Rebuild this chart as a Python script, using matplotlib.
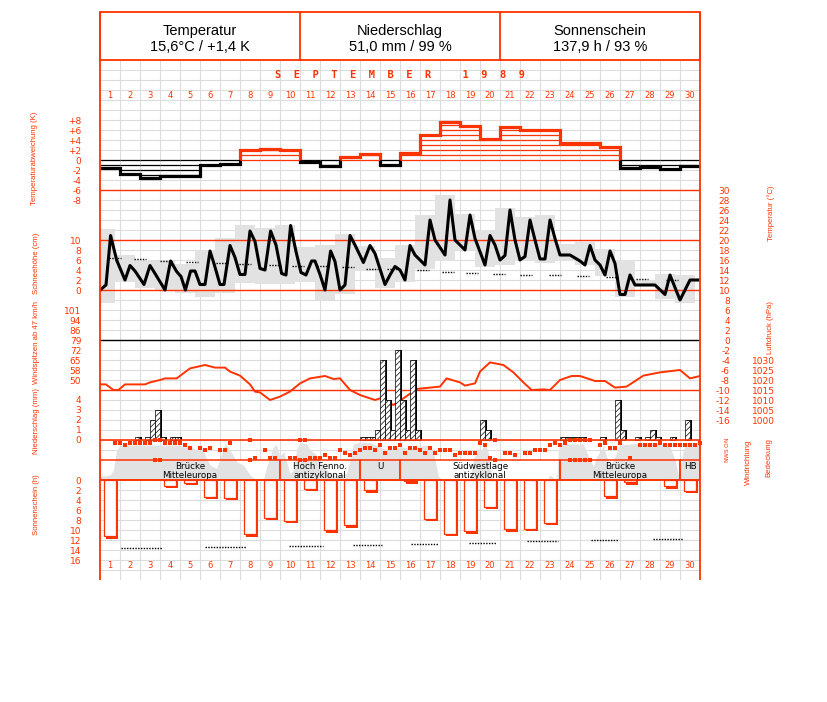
import matplotlib.pyplot as plt
import numpy as np
from matplotlib.patches import Rectangle

plt.rcParams['hatch.linewidth'] = 0.5

RED = '#ff3300'
GRID = '#dcdcdc'
GREY = '#e2e2e2'

# ---------------- Daten September 1989 ----------------
days = np.arange(1, 31)

# Abweichung des Tagesmittels vom langjaehrigen Mittel (K)
temp_dev = [-1.6, -2.7, -3.5, -3.1, -3.1, -1.0, -0.7, 2.0, 2.2, 2.0,
            -0.4, -1.1, 0.7, 1.3, -0.9, 1.5, 5.0, 7.7, 6.9, 4.3,
            6.6, 6.1, 6.1, 3.5, 3.5, 2.6, -1.6, -1.3, -1.8, -1.2]

# Tagesextreme (degC)
temp_max = [22.3, 17.1, 16.0, 15.8, 15.3, 18.0, 20.5, 23.1, 22.5, 23.1,
            18.7, 19.1, 21.3, 18.8, 16.5, 19.1, 25.0, 29.0, 25.3, 22.0,
            26.5, 24.7, 25.0, 19.3, 19.7, 18.2, 16.0, 12.0, 13.3, 13.0]
temp_min = [7.5, 11.7, 10.5, 9.8, 9.5, 8.7, 9.5, 11.5, 11.3, 11.3,
            11.7, 8.0, 9.3, 13.8, 10.5, 11.7, 14.3, 15.8, 18.0, 14.7,
            15.0, 15.8, 15.5, 15.8, 15.0, 12.9, 8.7, 10.8, 8.3, 7.5]

# Temperaturverlauf (Zeit in Tagen ab 1.9. 0 Uhr)
temp_t = [0, 0.3, 0.53, 0.83, 1.25, 1.5, 1.75, 2.2, 2.5, 2.75, 3.25, 3.53, 3.83, 4.05,
          4.27, 4.53, 4.75, 5.0, 5.25, 5.5, 5.72, 6.0, 6.2, 6.5, 6.75, 7.0, 7.25, 7.5,
          7.75, 8.0, 8.25, 8.53, 8.8, 9.08, 9.3, 9.53, 9.8, 10.05, 10.3, 10.58, 10.75,
          11.0, 11.25, 11.53, 11.75, 12.0, 12.25, 12.5, 12.75, 13.17, 13.5, 13.75,
          14.25, 14.5, 14.75, 15.0, 15.25, 15.5, 15.75, 16.25, 16.5, 16.75, 17.25,
          17.5, 17.75, 18.25, 18.5, 18.75, 19.25, 19.5, 19.75, 20.0, 20.25, 20.5,
          20.75, 21.0, 21.25, 21.5, 21.75, 22.0, 22.25, 22.5, 22.75, 23.0, 23.5, 24.0,
          24.25, 24.5, 24.75, 25.0, 25.25, 25.5, 25.75, 26.0, 26.25, 26.5, 26.75,
          27.75, 28.25, 28.5, 29.0, 29.5, 30.0]
temp_v = [10.0, 11.0, 20.9, 16.0, 12.0, 14.9, 13.8, 11.1, 14.9, 13.3, 10.0, 15.8, 13.7, 12.7,
          10.0, 13.8, 13.8, 11.1, 11.1, 17.8, 15.0, 11.1, 11.1, 18.9, 16.5, 13.1, 13.1, 21.8,
          19.7, 14.3, 14.0, 21.8, 19.0, 13.3, 13.0, 22.9, 17.7, 13.5, 13.0, 15.8, 15.8,
          13.1, 10.0, 17.8, 15.7, 10.0, 11.0, 20.9, 19.0, 15.5, 18.9, 17.3,
          11.1, 13.0, 14.7, 14.0, 12.0, 18.9, 17.0, 15.0, 24.0, 20.0, 17.0,
          28.0, 20.0, 18.0, 25.0, 20.3, 15.0, 20.9, 19.0, 16.0, 16.9, 26.0,
          20.0, 16.0, 16.7, 24.0, 20.0, 16.2, 16.2, 24.0, 20.3, 17.0, 17.0, 15.8,
          15.0, 18.9, 16.0, 15.0, 13.0, 17.8, 15.3, 9.1, 9.1, 13.0, 11.0,
          11.0, 9.1, 13.0, 8.0, 12.0, 12.0]

# langjaehriges Tagesmittel der Temperatur
clim_t = [0.75, 2.0, 3.3, 4.6, 6.1, 7.25, 8.75, 9.9, 11.15, 12.4, 13.6, 14.65,
          16.15, 17.4, 18.6, 19.95, 21.3, 22.75, 24.15, 25.6, 27.1, 28.6]
clim_v = [16.5, 16.2, 15.9, 15.7, 15.5, 15.3, 15.1, 14.9, 14.8, 14.6, 14.3, 14.2,
          14.0, 13.7, 13.5, 13.3, 13.1, 13.0, 12.8, 12.6, 12.3, 12.1]

# Luftdruck (hPa)
pres_t = [0, 0.3, 0.67, 0.92, 1.25, 2.25, 2.5, 3.0, 3.25, 3.83, 4.5, 5.25, 5.75, 6.25,
          6.5, 7.0, 7.5, 7.75, 8.0, 8.5, 9.0, 9.5, 10.0, 10.5, 11.25, 11.67, 12.0, 12.5,
          13.0, 13.75, 14.0, 14.67, 15.17, 15.83, 16.5, 17.0, 17.33, 18.0, 18.25, 18.75,
          19.0, 19.5, 20.17, 20.67, 21.17, 21.58, 22.17, 22.5, 23.0, 23.58, 24.0, 24.75,
          25.25, 25.75, 26.33, 27.17, 28.0, 29.0, 29.5, 30.0]
pres_v = [1017.8, 1017.8, 1015.0, 1015.0, 1017.8, 1017.8, 1018.8, 1020.0, 1020.8, 1020.8,
          1025.8, 1027.5, 1026.2, 1026.2, 1024.2, 1022.2, 1017.8, 1014.2, 1013.8, 1010.0,
          1011.7, 1014.2, 1018.3, 1020.8, 1022.0, 1020.5, 1020.8, 1015.0, 1012.5, 1010.0,
          1010.8, 1007.5, 1010.8, 1015.5, 1016.2, 1016.7, 1020.8, 1018.8, 1017.2, 1018.3,
          1024.2, 1028.8, 1027.5, 1023.8, 1018.8, 1015.0, 1015.3, 1015.0, 1020.0, 1022.0,
          1022.0, 1019.5, 1019.5, 1016.2, 1016.7, 1022.2, 1023.8, 1025.0, 1020.8, 1022.0]

# Niederschlag je 6-Stunden-Termin (Termin 0 = 1.9. 0-6 Uhr)
precip_slot = [7, 9, 10, 11, 12, 14, 15, 52, 53, 54, 55, 56, 57, 58, 59, 60, 61, 62, 63,
               76, 77, 92, 93, 94, 95, 96, 100, 103, 104, 107, 109, 110, 111, 114, 117]
precip_mm = [0.3, 0.3, 2.0, 3.0, 0.3, 0.3, 0.3, 0.25, 0.25, 0.25, 1.0, 8.0, 4.0, 1.0, 9.0,
             4.0, 1.0, 8.0, 1.0, 2.0, 1.0, 0.25, 0.25, 0.25, 0.25, 0.25, 0.25, 4.0, 1.0,
             0.25, 0.25, 1.0, 0.25, 0.25, 2.0]

# Windrichtung (Grad) je 6-Stunden-Termin
wind_slot = [3, 4, 5, 6, 7, 8, 9, 10, 11, 12, 13, 14, 15, 16, 17, 18, 20, 21, 22, 24, 25, 26,
             30, 31, 33, 34, 35, 38, 39, 40, 41, 42, 43, 44, 45, 46, 47, 48, 49, 50, 51,
             52, 53, 54, 55, 56, 57, 58, 59, 60, 61, 62, 63, 64, 65, 66, 67, 68, 69, 70,
             71, 72, 73, 74, 75, 76, 77, 78, 79, 81, 82, 83, 85, 86, 87, 88, 89, 90, 91,
             92, 93, 94, 95, 96, 97, 98, 100, 101, 102, 103, 104, 106, 108, 109, 110, 111,
             112, 113, 114, 115, 116, 117, 118, 119, 120]
wind_dir = [45, 45, 90, 45, 45, 45, 45, 45, 0, 0, 45, 45, 45, 45, 90, 135, 135, 180, 135,
            180, 180, 45, 0, 315, 180, 315, 315, 315, 315, 0, 0, 315, 315, 315, 270, 315,
            315, 180, 225, 270, 225, 180, 135, 135, 180, 90, 225, 135, 135, 90, 225, 135,
            135, 180, 225, 135, 225, 180, 180, 180, 270, 225, 225, 225, 225, 45, 90, 315,
            0, 225, 225, 270, 225, 225, 180, 180, 180, 90, 45, 90, 45, 0, 0, 0, 0, 0, 90,
            45, 135, 135, 45, 315, 90, 90, 90, 90, 45, 90, 90, 90, 90, 90, 90, 90, 45]

# Bedeckung (Achtel)
cloud_t = [0, 0.5, 0.67, 0.83, 1.0, 2.0, 3.0, 4.0, 4.17, 4.5, 4.83, 5.08, 5.33, 5.5, 5.83,
           6.0, 6.25, 6.5, 6.83, 7.17, 7.5, 7.83, 8.17, 8.33, 8.67, 8.83, 9.0, 9.17, 9.33,
           9.5, 9.67, 9.83, 10.0, 10.33, 10.5, 10.83, 11.17, 11.5, 11.83, 12.33, 12.5,
           12.67, 13.0, 13.5, 14.17, 14.67, 15.0, 15.5, 16.0, 16.33, 16.67, 16.92, 17.17,
           18.5, 18.67, 18.92, 19.08, 19.25, 19.42, 19.58, 19.75, 22.33, 22.5, 22.83,
           22.92, 23.0, 24.17, 24.42, 24.67, 24.83, 25.17, 25.5, 25.67, 26.0, 26.5, 27.5,
           28.5, 28.75, 28.92, 29.17, 29.33, 30.0]
cloud_okta = [0.7, 1.0, 2.0, 6.0, 7.0, 7.0, 7.0, 7.0, 6.6, 6.8, 6.0, 6.5, 4.3, 3.0, 2.3,
              4.3, 7.3, 6.0, 3.7, 3.0, 1.0, 0.0, 0.0, 2.7, 6.7, 7.0, 4.7, 5.7, 3.7,
              1.3, 2.0, 6.0, 7.5, 7.2, 6.0, 5.0, 2.7, 1.3, 0.7, 1.3, 4.0,
              7.2, 7.6, 7.5, 6.3, 6.0, 6.7, 6.3, 6.7, 7.0, 5.7, 0.7, 0.0,
              0.0, 4.3, 6.0, 6.0, 7.5, 5.3, 0.7, 0.0, 0.0, 1.0, 0.0,
              6.0, 7.2, 7.2, 4.7, 2.7, 4.7, 6.7, 2.7, 4.0, 7.0, 7.2, 7.5,
              6.7, 4.0, 1.0, 6.0, 7.5, 7.5]

# Grosswetterlagen
gwl_start = [0, 9, 13, 15, 23, 29]
gwl_end = [9, 13, 15, 23, 29, 30]
gwl_name = ['Brücke\nMitteleuropa', 'Hoch Fenno.\nantizyklonal', 'U',
            'Südwestlage\nantizyklonal', 'Brücke\nMitteleuropa', 'HB']

# Sonnenscheindauer (h)
sun_h = [11.2, 0, 0, 1.1, 0.5, 3.3, 3.5, 10.8, 7.5, 8.1, 1.7, 10.0, 9.0, 2.0, 0,
         0.2, 7.7, 10.7, 10.2, 5.3, 9.8, 9.7, 8.5, 0, 0, 3.2, 0.4, 0, 1.2, 2.1]
# astronomisch moegliche Sonnenscheindauer (h)
sun_clim_start = [1.05, 5.25, 9.45, 12.65, 15.55, 18.45, 21.35, 24.55, 27.65]
sun_clim_end = [3.1, 7.3, 11.15, 14.1, 16.9, 19.8, 22.9, 25.9, 29.15]
sun_clim_v = [13.5, 13.3, 13.1, 12.9, 12.7, 12.5, 12.2, 12.0, 11.8]

header_title = ['Temperatur', 'Niederschlag', 'Sonnenschein']
header_value = ['15,6°C / +1,4 K', '51,0 mm / 99 %', '137,9 h / 93 %']

# ---------------- Layout ----------------
W, H = 827, 702
X0, X1, Y0, Y1 = 100, 700, 60, 580
fig = plt.figure(figsize=(W / 100, H / 100), dpi=100)
rect = [X0 / W, 1 - Y1 / H, (X1 - X0) / W, (Y1 - Y0) / H]


def panel(value, pixel, px_per_unit):
    ax = fig.add_axes(rect)
    ax.set_xlim(0, 30)
    ax.set_ylim(value - (Y1 - pixel) / px_per_unit, value + (pixel - Y0) / px_per_unit)
    ax.patch.set_visible(False)
    for s in ax.spines.values():
        s.set_visible(False)
    ax.set_xticks([])
    ax.set_yticks([])
    return ax


def left_ticks(ax, ticks, labels):
    ax.set_yticks(ticks, labels)
    ax.tick_params(axis='y', length=0, pad=13.5, labelsize=6.5, labelcolor=RED)


def right_ticks(ax, ticks, labels, pad_px):
    ax.set_yticks(ticks, labels)
    ax.yaxis.tick_right()
    ax.tick_params(axis='y', length=0, pad=pad_px * 0.72, labelsize=6.5, labelcolor=RED,
                   labelleft=False, labelright=True)
    plt.setp(ax.get_yticklabels(), ha='right')


# Raster
g = panel(0, Y1, 10)
g.set_xticks(np.arange(31))
g.set_yticks(np.arange(53))
g.grid(True, color=GRID, lw=0.8)
g.tick_params(length=0, labelbottom=False, labelleft=False)
for d in days:
    for row in (48.5, 1.5):
        g.text(d - 0.5, row, str(d), color=RED, fontsize=6, ha='center', va='center')
g.text(15, 50.5, 'S  E  P  T  E  M  B  E  R     1  9  8  9', color=RED, fontsize=7.5,
       family='DejaVu Sans Mono', weight='bold', ha='center', va='center')

# Temperatur (degC)
t = panel(10, 290, 5)
t.bar(days - 1.25, np.array(temp_max) - np.array(temp_min), bottom=temp_min, width=1,
      align='edge', color=GREY, lw=0)
for v in (30, 20, 10):
    t.axhline(v, color=RED, lw=1)
t.axhline(0, color='black', lw=1)
t.hlines(clim_v, np.array(clim_t) - 0.3, np.array(clim_t) + 0.3, colors='black',
         linestyles=(0, (1, 1)), lw=1)
t.plot(temp_t, temp_v, color='black', lw=2.2)
right_ticks(t, np.arange(30, -17, -2), [str(v) for v in range(30, -17, -2)], 30)

# Temperaturabweichung (K)
a = panel(0, 160, 5)
dev = np.array(temp_dev)
for i, v in enumerate(dev):
    if v > 0:
        a.hlines(list(range(0, int(np.floor(v)) + 1)), i, i + 1, colors=RED, lw=0.9)
    else:
        a.hlines(list(range(0, int(np.ceil(v)) - 1, -1)), i, i + 1, colors='black', lw=0.9)
for col, y0 in ((RED, 0), ('black', -40)):
    st = a.stairs(dev, np.arange(31), baseline=None, color=col, lw=2.3)
    st.set_clip_path(Rectangle((-1, y0), 32, 40, transform=a.transData))
left_ticks(a, np.arange(8, -9, -2), [f'{v:+d}' if v else '0' for v in range(8, -9, -2)])

# Schneehoehe (cm)
sn = panel(0, 290, 5)
left_ticks(sn, np.arange(10, -1, -2), [str(v) for v in range(10, -1, -2)])

# Windspitzen (Skala in m/s, beschriftet in km/h)
gu = panel(14, 380, 5)
gust_ms = np.arange(14, 29, 2)
left_ticks(gu, gust_ms, [str(int(round(v * 3.6))) for v in gust_ms])

# Luftdruck (hPa)
p = panel(1015, 390, 2)
p.axhline(1015, color=RED, lw=1)
p.plot(pres_t, pres_v, color=RED, lw=1.4)
right_ticks(p, np.arange(1030, 999, -5), [str(v) for v in range(1030, 999, -5)], 75)

# Niederschlag (mm)
n = panel(0, 440, 10)
ps = np.array(precip_slot) / 4
n.bar(ps + 0.1, precip_mm, width=0.25, align='edge', color='black', lw=0)
n.bar(ps, precip_mm, width=0.25, align='edge', facecolor='white', edgecolor='black',
      hatch='//////', lw=0.5)
n.axhline(0, color=RED, lw=1.2)
left_ticks(n, np.arange(4, -1, -1), [str(v) for v in range(4, -1, -1)])

# Bedeckung und Grosswetterlage
c = panel(0, 480, 5)
for s, e in zip(gwl_start, gwl_end):
    c.add_patch(Rectangle((s, 0), e - s, 4, facecolor='white', lw=0, zorder=1))
c.fill_between(cloud_t, 0, cloud_okta, color=GREY, lw=0, zorder=2)
for s, e, name in zip(gwl_start, gwl_end, gwl_name):
    c.add_patch(Rectangle((s, 0), e - s, 4, fill=False, edgecolor=RED, lw=1.1, zorder=3))
    c.text((s + e) / 2, 3.55, name, fontsize=6.3, ha='center', va='top',
           linespacing=0.95, zorder=4)

# Windrichtung (N oben und unten)
wd = panel(0, 440, -20 / 360)
wdir = np.array(wind_dir, dtype=float)
wx = np.array(wind_slot) / 4
wd.plot(wx, wdir, 's', color=RED, ms=2.6, mew=0, clip_on=False)
wd.plot(wx[wdir == 0], wdir[wdir == 0] + 360, 's', color=RED, ms=2.6, mew=0, clip_on=False)
for deg, lab in zip([0, 90, 180, 270, 360], ['N', 'O', 'S', 'W', 'N']):
    wd.text(31.35, deg, lab, rotation=90, color=RED, fontsize=4.2, ha='center',
            va='center', clip_on=False)

# Sonnenschein (h)
so = panel(0, 480, -5)
sun = np.array(sun_h)
on = sun > 0
so.bar(days[on] - 0.7, sun[on] + 0.5, width=0.6, align='edge', color=RED, lw=0)
so.bar(days[on] - 0.8, sun[on], width=0.6, align='edge', facecolor='white',
       edgecolor=RED, lw=0.9)
so.hlines(sun_clim_v, sun_clim_start, sun_clim_end, colors='black',
          linestyles=(0, (1, 1)), lw=1)
so.axhline(0, color=RED, lw=1.2)
left_ticks(so, np.arange(0, 17, 2), [str(v) for v in range(0, 17, 2)])

# Rahmen, Kopf und Achsentitel in Pixelkoordinaten
b = fig.add_axes([0, 0, 1, 1])
b.set_xlim(0, W)
b.set_ylim(H, 0)
b.axis('off')
b.add_patch(Rectangle((X0, 12), X1 - X0, Y0 - 12, fill=False, edgecolor=RED, lw=1.3))
b.vlines([X0, X1], 12, Y1, colors=RED, lw=1.3)
b.vlines([300, 500], 12, Y0, colors=RED, lw=1.3)
for i, (ti, va) in enumerate(zip(header_title, header_value)):
    xc = 200 + 200 * i
    b.text(xc, 31, ti, fontsize=10.5, family='Liberation Sans', ha='center', va='center')
    b.text(xc, 47, va, fontsize=10.5, family='Liberation Sans', ha='center', va='center')

labels = [(34, 158, 'Temperaturabweichung (K)'), (36, 263, 'Schneehöhe (cm)'),
          (36, 343, 'Windspitzen ab 47 km/h'), (36, 421, 'Niederschlag (mm)'),
          (36, 505, 'Sonnenschein (h)'), (771, 213, 'Temperatur (°C)'),
          (771, 328, 'Luftdruck (hPa)'), (748, 462, 'Windrichtung'), (769, 458, 'Bedeckung')]
for x, y, s in labels:
    b.text(x, y, s, rotation=90, color=RED, fontsize=5.6, family='Liberation Sans',
           ha='center', va='center')

fig.savefig('out.png', dpi=100)
